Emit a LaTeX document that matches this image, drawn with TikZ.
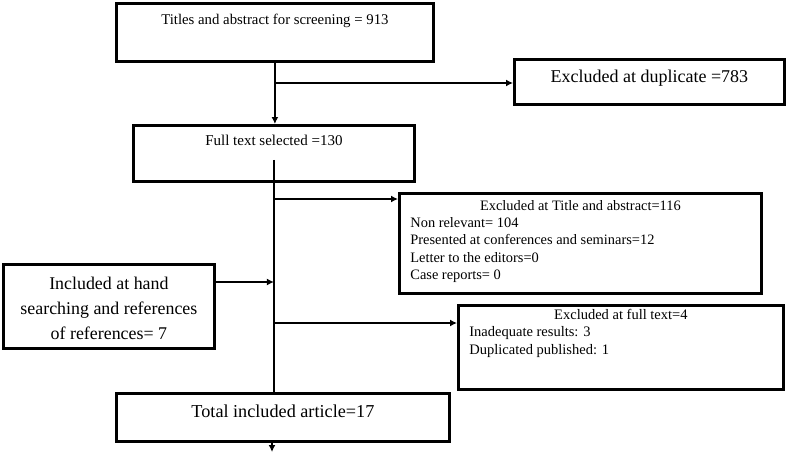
\documentclass[tikz,border=0pt]{standalone}
\usepackage{fontspec}
\setmainfont{Liberation Serif}
\usetikzlibrary{arrows.meta,calc}
\tikzset{
  box/.style={draw, line width=2.8pt, inner sep=0pt, anchor=north west},
  conn/.style={line width=2.4pt},
  arr/.style={line width=2.4pt, -{Latex[length=7pt,width=7pt]}},
}
\newcommand{\bx}[4]{\parbox[c][#2pt][t]{#1pt}{\rule{0pt}{#3pt}#4}}
\begin{document}
\begin{tikzpicture}[x=1pt,y=-1pt]
\useasboundingbox (0,0) rectangle (787,452);
% boxes
\node[box] (t) at (115,2) {\bx{317}{58}{21}{\centering\fontsize{14.8}{17}\selectfont Titles and abstract for screening = 913\par}};
\node[box] (d) at (513,58) {\bx{270}{45}{23}{\centering\fontsize{18}{21}\selectfont Excluded at duplicate =783\par}};
\node[box] (f) at (132,124) {\bx{281}{56}{20}{\centering\fontsize{15}{17}\selectfont Full text selected =130\par}};
\node[box] (e1) at (398,192) {\bx{362}{100}{17}{\fontsize{14.4}{17.2}\selectfont\setlength{\parindent}{0pt}\leftskip=11pt
  \makebox[340pt][c]{Excluded at Title and abstract=116}\\
  Non relevant= 104\\
  Presented at conferences and seminars=12\\
  Letter to the editors=0\\
  Case reports= 0\par}};
\node[box] (inc) at (2,263) {\bx{211}{84}{25}{\centering\fontsize{17.9}{25}\selectfont Included at hand\\ searching and references\\ of references= 7\par}};
\node[box] (e2) at (457,304) {\bx{325}{84}{14}{\fontsize{14.5}{17.5}\selectfont\setlength{\parindent}{0pt}\leftskip=11pt
  \makebox[303pt][c]{Excluded at full text=4}\\
  Inadequate results: 3\\
  Duplicated published: 1\par}};
\node[box] (tot) at (115,392) {\bx{333}{48}{24}{\centering\fontsize{18.2}{21}\selectfont Total included article=17\par}};
% coordinates
\coordinate (fs) at ($(f.south)+(0,-23)$);
\coordinate (e1in) at ($(e1.north west)+(0,7)$);
\coordinate (incout) at ($(inc.north east)+(0,19)$);
\coordinate (e2in) at ($(e2.north west)+(0,19)$);
\coordinate (dup) at ($(d.north west)+(0,25)$);
\coordinate (endp) at (272,452);
% connectors
\draw[arr] (t.south) -- (t.south |- f.north);
\draw[arr] (t.south |- dup) -- (dup);
\draw[conn] (fs) -- (fs |- tot.north);
\draw[arr] (fs |- e1in) -- (e1in);
\draw[arr] (incout) -- (fs |- incout);
\draw[arr] (fs |- e2in) -- (e2in);
\draw[arr] (endp |- tot.south) -- (endp);
\end{tikzpicture}
\end{document}
